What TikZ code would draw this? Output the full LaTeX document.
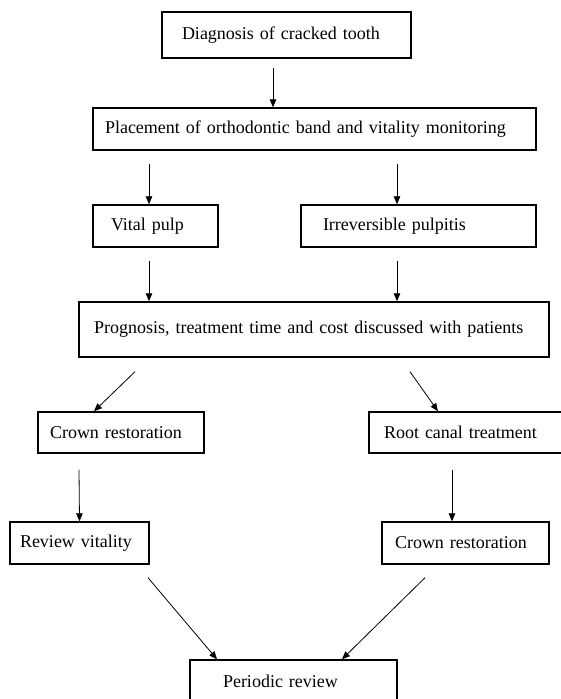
\documentclass[tikz,border=0pt]{standalone}
\usepackage{fontspec}
\setmainfont{Liberation Serif}
\usepackage{tikz}
\usetikzlibrary{calc,arrows.meta}

\tikzset{
    box/.style={draw, line width=1.4pt, align=left, inner ysep=0pt,
        font=\fontsize{18}{22}\selectfont},
    flow/.style={line width=0.8pt, -{Triangle[length=8pt,width=6.5pt]}}
}

\begin{document}
\begin{tikzpicture}[x=1pt, y=-1pt]
    \useasboundingbox (0,0) rectangle (561,699);

    % Boxes
    \node[box, text width=209pt, inner xsep=20pt, minimum height=46pt] (diag) at (286.5,35) {Diagnosis of cracked tooth};
    \node[box, text width=419pt, inner xsep=12pt, minimum height=42pt] (place) at (314.5,129) {Placement of orthodontic band and vitality monitoring};
    \node[box, text width=89pt, inner xsep=18pt, minimum height=42pt] (vital) at (155.5,226) {Vital pulp};
    \node[box, text width=191pt, inner xsep=22pt, minimum height=42pt] (irrev) at (418.5,226) {Irreversible pulpitis};
    \node[box, text width=440pt, inner xsep=15pt, minimum height=55pt] (prog) at (314,329.5) {Prognosis, treatment time and cost discussed with patients};
    \node[box, text width=142pt, inner xsep=12pt, minimum height=41pt] (crownA) at (121,432.5) {Crown restoration};
    \node[box, text width=165pt, inner xsep=15pt, minimum height=41pt] (rct) at (466.5,432.5) {Root canal treatment};
    \node[box, text width=119pt, inner xsep=10pt, minimum height=42pt] (review) at (79.5,543) {Review vitality};
    \node[box, text width=141pt, inner xsep=13pt, minimum height=42pt] (crownB) at (465.5,543) {Crown restoration};
    \node[box, text width=141pt, inner xsep=33pt, minimum height=42pt] (periodic) at (293.5,681) {Periodic review};

    % Arrows
    \draw[flow] ($(diag.south)+(-13.5,9)$) -- ($(place.north)+(-41.5,0)$);
    \draw[flow] ($(place.south)+(-165.5,13)$) -- ($(vital.north)+(-6.5,0)$);
    \draw[flow] ($(place.south)+(82.5,13)$) -- ($(irrev.north)+(-21.5,0)$);
    \draw[flow] ($(vital.south)+(-6.5,13)$) -- ($(prog.north)+(-165,0)$);
    \draw[flow] ($(irrev.south)+(-21.5,13)$) -- ($(prog.north)+(83,0)$);
    \draw[flow] ($(prog.south)+(-179,14)$) -- ($(crownA.north)+(-27,0)$);
    \draw[flow] ($(prog.south)+(96,14)$) -- ($(rct.north)+(-28.5,0)$);
    \draw[flow] ($(crownA.south)+(-42,16)$) -- (review.north);
    \draw[flow] ($(rct.south)+(-14.5,16)$) -- ($(crownB.north)+(-13.5,0)$);
    \draw[flow] ($(review.south)+(68.5,13)$) -- ($(periodic.north)+(-76.5,0)$);
    \draw[flow] ($(crownB.south)+(-40.5,13)$) -- ($(periodic.north)+(48.5,0)$);
\end{tikzpicture}
\end{document}
